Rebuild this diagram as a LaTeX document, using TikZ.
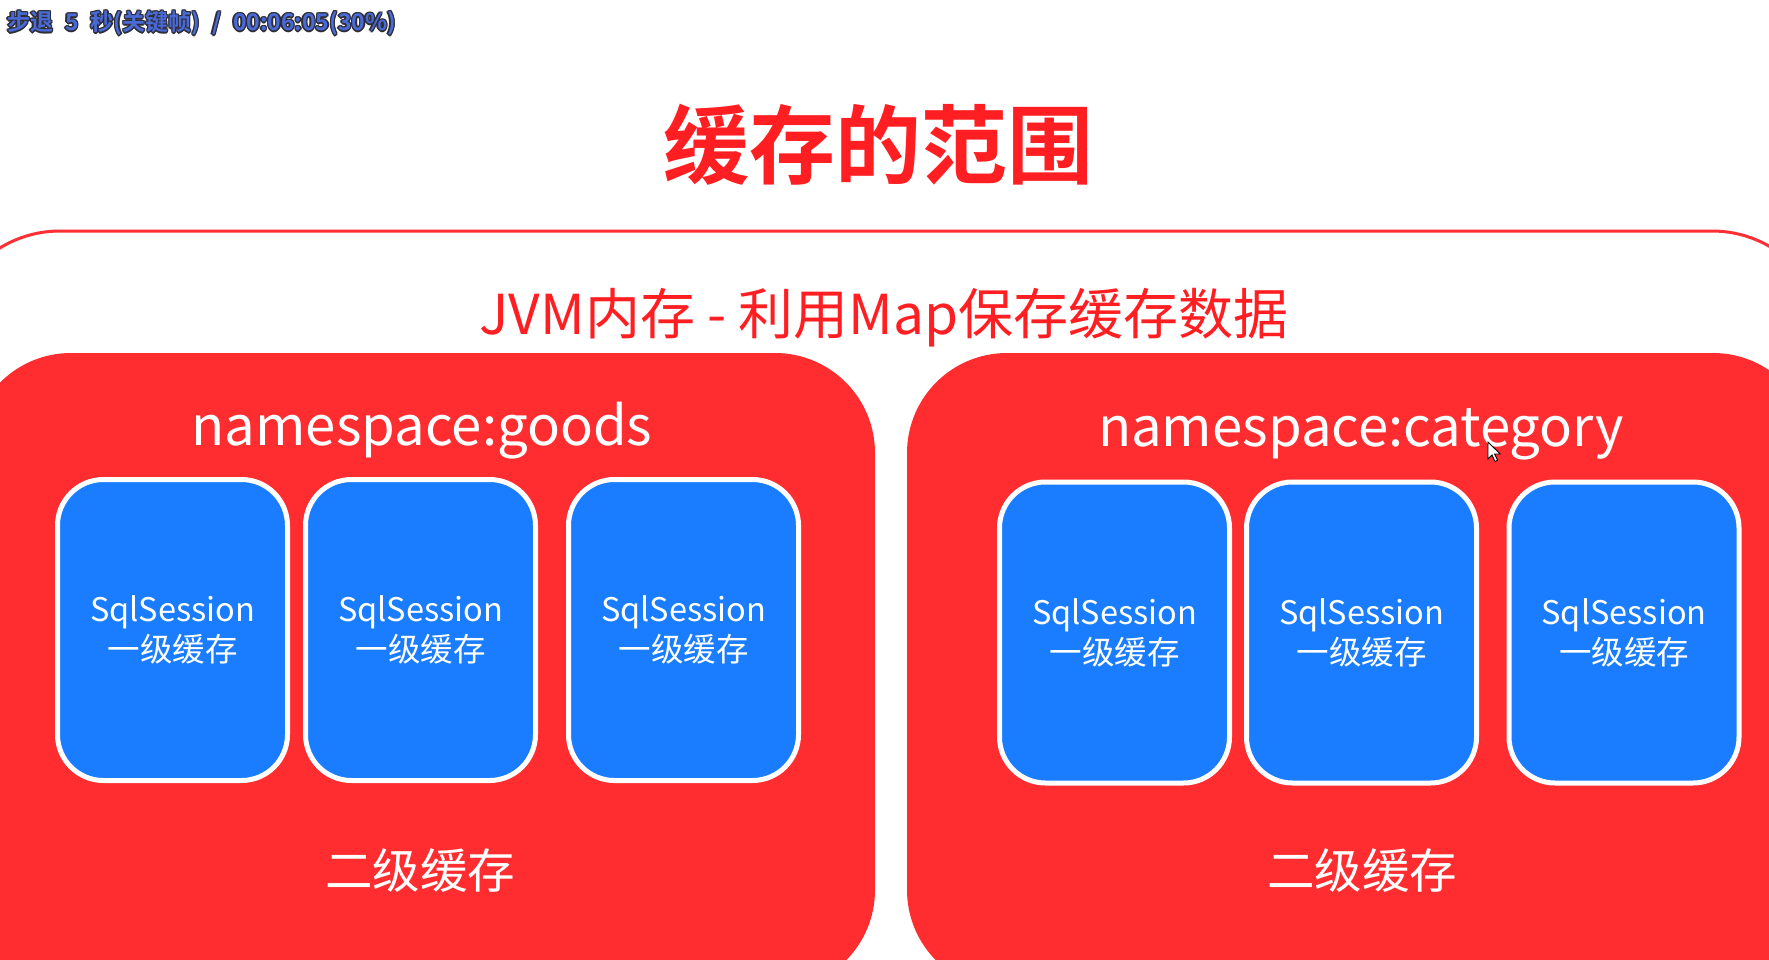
\documentclass[tikz,border=0pt]{standalone}
\usepackage{fontspec}
\setmainfont{Noto Sans CJK SC}[BoldFont={* Bold}]
\definecolor{boxred}{HTML}{FF2D30}
\definecolor{linered}{HTML}{FF3035}
\definecolor{titlered}{HTML}{FF1F22}
\definecolor{sessblue}{HTML}{1A7DFF}
\definecolor{osdblue}{HTML}{4A6AD8}
\definecolor{osdline}{HTML}{2E2E38}
\tikzset{
  scope/.style={fill=boxred, rounded corners=100pt},
  session/.style={draw=white, line width=5pt, fill=sessblue, rounded corners=46pt,
    minimum width=230pt, minimum height=301pt, inner sep=0pt, align=center,
    text=white, font=\fontsize{32.5}{40}\selectfont},
  nslabel/.style={anchor=base, text=white, inner sep=0pt, font=\fontsize{54.5}{60}\selectfont},
  l2label/.style={anchor=base, text=white, inner sep=0pt, font=\fontsize{47.5}{50}\selectfont},
  osd/.style={anchor=base west, inner sep=0pt, font=\bfseries\fontsize{23}{23}\selectfont}
}
\newcommand{\osdgap}{\hspace{12pt}}
\newcommand{\osdtext}{步退\osdgap 5\osdgap 秒(关键帧)\osdgap /\osdgap 00:06:05(30\%)}
\begin{document}
\begin{tikzpicture}[x=1pt,y=-1pt]
\useasboundingbox (0,0) rectangle (1769,960);
\clip (0,0) rectangle (1769,960);
\fill[white] (0,0) rectangle (1769,960);

% player status line
\foreach \dx/\dy [count=\k] in {-1.4/0,1.4/0,0/-1.4,0/1.4,-1/-1,1/1,-1/1,1/-1}
  \node[osd, text=osdline, name=osdshadow\k] at (7+\dx,31+\dy) {\osdtext};
\node[osd, text=osdblue] (osd) at (7,31) {\osdtext};

% title
\node[anchor=base, text=titlered, inner sep=0pt, font=\bfseries\fontsize{86}{90}\selectfont]
  (title) at (878,178) {缓存的范围};

% JVM memory frame
\draw[linered, line width=3pt, rounded corners=115pt] (-55,231) rectangle (1827,1250);
\node[anchor=base, text=titlered, inner sep=0pt, font=\fontsize{55}{60}\selectfont]
  (jvm) at (884,334) {JVM内存 - 利用Map保存缓存数据};

% namespace areas
\fill[scope] (-29,353) rectangle (875,990);
\fill[scope] (907,353) rectangle (1813,990);
\node[nslabel] (nsgoods) at (422,445) {namespace:goods};
\node[nslabel] (nscat) at (1361,446) {namespace:category};

% first-level caches
\node[session] (g1) at (172.5,630) {SqlSession\\一级缓存};
\node[session] (g2) at (420.5,630) {SqlSession\\一级缓存};
\node[session] (g3) at (683.5,630) {SqlSession\\一级缓存};
\node[session] (c1) at (1114.5,632.5) {SqlSession\\一级缓存};
\node[session] (c2) at (1361.5,632.5) {SqlSession\\一级缓存};
\node[session] (c3) at (1624,632.5) {SqlSession\\一级缓存};

% second-level cache labels
\node[l2label] (l2goods) at (420,888) {二级缓存};
\node[l2label] (l2cat) at (1362,888) {二级缓存};

% mouse pointer
\draw[fill=white, draw=black, line width=0.9pt, line join=miter]
  (1488,442) -- ++(0,17) -- ++(4,-4) -- ++(3,6.5) -- ++(2.6,-1.2) -- ++(-3,-6.3) -- ++(5.6,0) -- cycle;
\end{tikzpicture}
\end{document}
